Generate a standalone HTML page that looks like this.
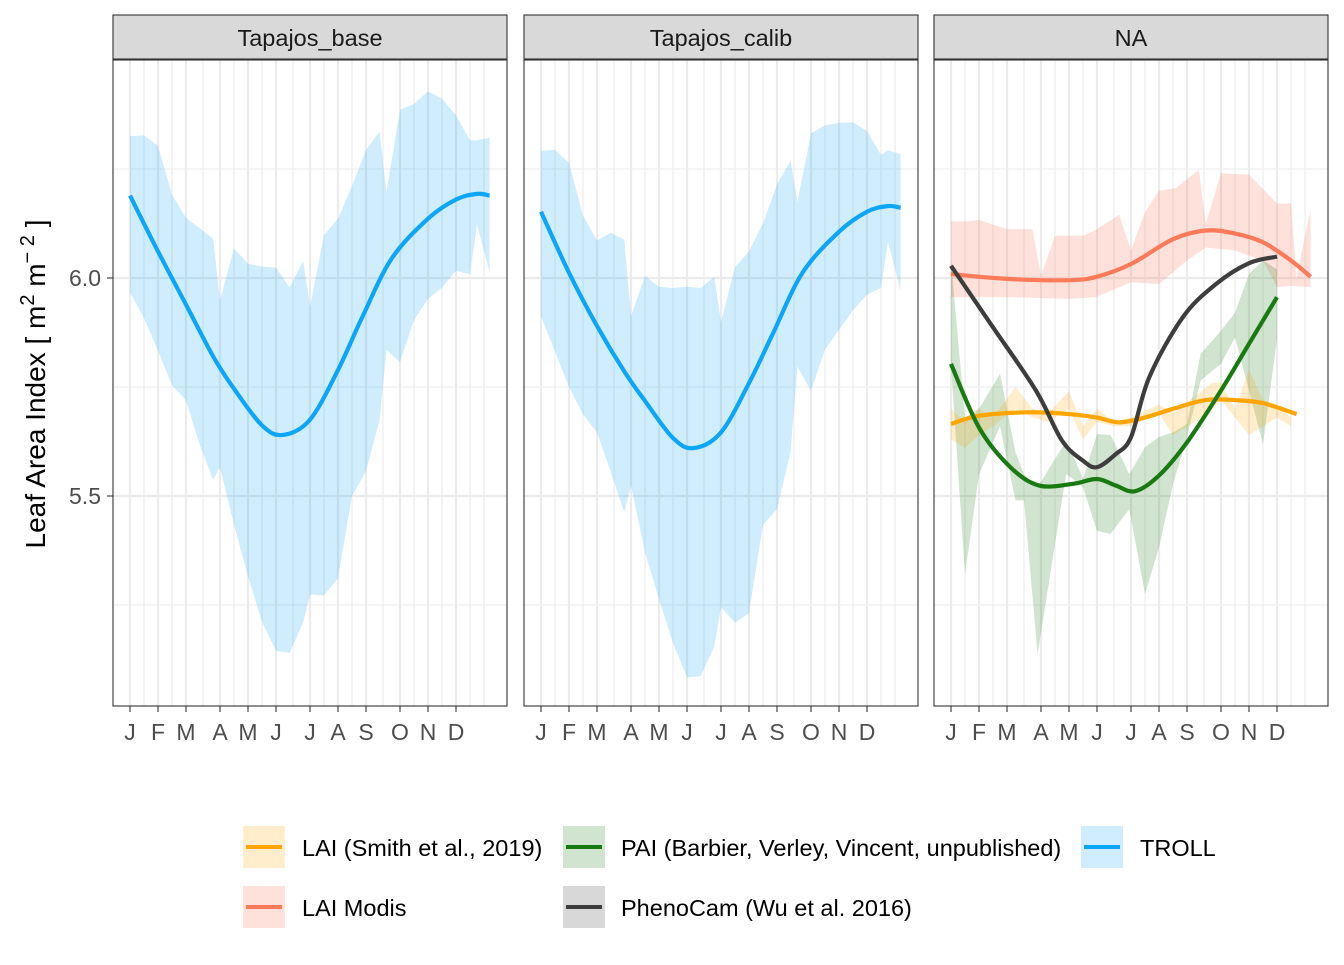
<!DOCTYPE html>
<html><head><meta charset="utf-8"><style>
body{margin:0;background:#fff;}
svg text{font-family:"Liberation Sans",sans-serif;}
</style></head><body>
<svg id="chart" width="1344" height="960" xmlns="http://www.w3.org/2000/svg"></svg>
<script>
// ---- data ----
const panelTitles = ["Tapajos_base","Tapajos_calib","NA"];
const monthLabels = ["J","F","M","A","M","J","J","A","S","O","N","D"];
const monthIdx = [0,2,4,6,8,10,12,14,16,18,20,22];
const yTicks = [5.5,6.0];
const yMinor = [5.25,5.75,6.25];
// x in axis units (half-month grid index)
const trollX = [0,1,2,3,4,4.8,5.6,6,7,8,9,10,10.8,11.6,12,13,14,15,16,16.8,17.2,18,19,20,21,22,23,23.5,24.4];
const baseUpper = [6.325,6.327,6.303,6.191,6.138,6.114,6.090,5.949,6.068,6.033,6.026,6.024,5.978,6.039,5.934,6.098,6.136,6.211,6.294,6.336,6.197,6.386,6.399,6.428,6.411,6.373,6.316,6.316,6.322];
const baseLower = [5.967,5.908,5.833,5.754,5.719,5.618,5.537,5.566,5.434,5.316,5.211,5.145,5.140,5.211,5.274,5.272,5.311,5.500,5.557,5.675,5.835,5.807,5.904,5.952,5.978,6.016,6.009,6.123,6.013];
const calibUpper = [6.292,6.294,6.264,6.143,6.086,6.104,6.088,5.912,6.005,5.980,5.977,5.980,5.977,6.003,5.899,6.025,6.061,6.125,6.215,6.269,6.174,6.332,6.350,6.356,6.357,6.337,6.282,6.293,6.284];
const calibLower = [5.912,5.831,5.750,5.687,5.646,5.556,5.463,5.524,5.371,5.263,5.163,5.084,5.087,5.154,5.245,5.209,5.231,5.434,5.470,5.601,5.797,5.741,5.836,5.881,5.926,5.962,5.977,6.084,5.971];
const lineX = [0,2,4,5.6,7,9,10.4,12,14,15.7,17.5,20,22,23.5,24.4];
const baseLine = [6.189,6.061,5.939,5.820,5.746,5.662,5.640,5.675,5.789,5.908,6.044,6.136,6.180,6.193,6.189];
const calibLine = [6.152,6.012,5.890,5.786,5.718,5.633,5.610,5.646,5.759,5.872,6.012,6.106,6.152,6.165,6.161];
// NA panel
const modisLineX = [0,4,8,10,12,15,17.1,19,21,23,24.4];
const modisLine = [6.009,5.998,5.995,6.003,6.032,6.089,6.109,6.102,6.082,6.040,6.003];
const modisUpX = [0,1,2,4,5.5,6,7,9,9.9,11.3,12,13,14,15.2,16.7,17.1,18,20,22,23,23.4,24.4];
const modisUp = [6.130,6.130,6.133,6.112,6.112,6.005,6.097,6.097,6.110,6.145,6.063,6.151,6.200,6.206,6.248,6.124,6.240,6.237,6.171,6.171,6.002,6.158];
const modisLoX = [0,4,8,9.9,12,14,16,17.1,19,21,22,23,24.4];
const modisLo = [5.956,5.956,5.952,5.956,5.990,5.986,6.040,6.070,6.063,6.040,5.979,5.982,5.979];
const phenoX = [0,3,5.7,7.5,9,10,11.1,12,13.3,15.7,17.7,20,22];
const phenoLine = [6.028,5.887,5.742,5.627,5.581,5.566,5.596,5.635,5.772,5.910,5.986,6.034,6.049];
const paiX = [0,2,4.2,5.9,8.3,10,11.1,12.3,14,16,18,20,22];
const paiLine = [5.803,5.657,5.566,5.524,5.528,5.539,5.524,5.511,5.547,5.623,5.742,5.849,5.956];
const paiRibX = [0,1,2,3.5,4.5,5,5.8,7.8,9,10,10.8,11.9,13,14,15,16,16.8,18,19,20,21,22];
const paiUp = [6.04,5.68,5.70,5.78,5.60,5.55,5.52,5.627,5.54,5.642,5.64,5.55,5.612,5.635,5.646,5.665,5.826,5.879,5.921,6.009,6.040,6.02];
const paiLo = [5.80,5.32,5.55,5.66,5.49,5.49,5.138,5.551,5.52,5.42,5.413,5.47,5.275,5.382,5.527,5.635,5.765,5.803,5.864,5.742,5.619,5.86];
const smithLineX = [0,2,5.3,8,10,11.3,13,15,17.1,19,21,23.4];
const smithLine = [5.665,5.684,5.692,5.688,5.680,5.669,5.680,5.700,5.720,5.720,5.713,5.688];
const smithRibX = [0,1,2,3,4.5,5.5,6.5,8,9,10,11,12,14,15,16.5,17.5,18,19,20,21,22,23];
const smithUp = [5.70,5.67,5.70,5.68,5.75,5.70,5.69,5.74,5.66,5.70,5.67,5.68,5.71,5.69,5.73,5.76,5.76,5.70,5.79,5.72,5.71,5.68];
const smithLo = [5.63,5.61,5.64,5.66,5.70,5.68,5.67,5.70,5.63,5.67,5.66,5.66,5.69,5.64,5.67,5.70,5.72,5.68,5.64,5.66,5.68,5.66];

// ---- scales ----
const gridPx = [0,14,28,42,56,73,90,104,118,132,146,163,180,194,208,222,236,253,270,284,298,312,326,340,354];
const panelLeft = [113,524,934];
const PW = 394, PTOP = 60, PBOT = 706;
function xs(p, v){
  const b = panelLeft[p] + 17;
  if (v <= 0) return b + v*14;
  if (v >= 24) return b + gridPx[24] + (v-24)*14;
  const i = Math.floor(v), f = v - i;
  return b + gridPx[i] + f*(gridPx[i+1]-gridPx[i]);
}
function ys(v){ return 278 - (v-6)*436; }

const svg = document.getElementById('chart');
const NS = "http://www.w3.org/2000/svg";
function mk(tag, attrs, parent){
  const e = document.createElementNS(NS, tag);
  for (const k in attrs) e.setAttribute(k, attrs[k]);
  (parent||svg).appendChild(e);
  return e;
}
function smooth(pts){
  let d = `M${pts[0][0]},${pts[0][1]}`;
  for (let i=0;i<pts.length-1;i++){
    const p0=pts[Math.max(0,i-1)], p1=pts[i], p2=pts[i+1], p3=pts[Math.min(pts.length-1,i+2)];
    const c1x=p1[0]+(p2[0]-p0[0])/6, c1y=p1[1]+(p2[1]-p0[1])/6;
    const c2x=p2[0]-(p3[0]-p1[0])/6, c2y=p2[1]-(p3[1]-p1[1])/6;
    d += ` C${c1x},${c1y} ${c2x},${c2y} ${p2[0]},${p2[1]}`;
  }
  return d;
}
function ribbon(p, xu, up, xl, lo, fill, name){
  const pts = xu.map((x,i)=>`${xs(p,x)},${ys(up[i])}`);
  for (let i=xl.length-1;i>=0;i--) pts.push(`${xs(p,xl[i])},${ys(lo[i])}`);
  const e = mk('polygon',{points:pts.join(' '), fill:fill});
  
  
}
function line(p, xv, yv, color, name){
  const pts = xv.map((x,i)=>[xs(p,x), ys(yv[i])]);
  const e = mk('path',{d:smooth(pts), fill:'none', stroke:color, 'stroke-width':4.2, 'stroke-linecap':'butt'});
  
  
}

for (let p=0;p<3;p++){
  const L = panelLeft[p];
  const g = mk('g',{});
  
  
  for (let i=0;i<25;i++){
    const x = xs(p,i);
    mk('line',{x1:x,x2:x,y1:PTOP,y2:PBOT,stroke:'#ebebeb','stroke-width': i%2===0 && i<=22 ? 2.2 : 1.1},g);
  }
  yMinor.forEach(v=>mk('line',{x1:L,x2:L+PW,y1:ys(v),y2:ys(v),stroke:'#ebebeb','stroke-width':1.1},g));
  yTicks.forEach(v=>mk('line',{x1:L,x2:L+PW,y1:ys(v),y2:ys(v),stroke:'#ebebeb','stroke-width':2.2},g));
  const st = mk('rect',{x:L,y:15,width:PW,height:44,fill:'#d9d9d9',stroke:'#333','stroke-width':1.1});
  
  
  const t = mk('text',{x:L+PW/2,y:46,'text-anchor':'middle','font-size':23.5,fill:'#1a1a1a'});
  t.textContent = panelTitles[p];
  
  
  monthIdx.forEach((m,i)=>{
    const x = xs(p,m);
    mk('line',{x1:x,x2:x,y1:PBOT,y2:PBOT+6,stroke:'#333','stroke-width':1.1});
    const tl = mk('text',{x:x,y:740,'text-anchor':'middle','font-size':23,fill:'#4d4d4d'});
    tl.textContent = monthLabels[i];
    
    
  });
}
ribbon(0, trollX, baseUpper, trollX, baseLower, 'rgba(20,165,250,0.2)', 'troll-ribbon-base');
line(0, lineX, baseLine, '#0ca6f8', 'troll-line-base');
ribbon(1, trollX, calibUpper, trollX, calibLower, 'rgba(20,165,250,0.2)', 'troll-ribbon-calib');
line(1, lineX, calibLine, '#0ca6f8', 'troll-line-calib');
ribbon(2, modisUpX, modisUp, modisLoX, modisLo, 'rgba(250,120,90,0.22)', 'modis-ribbon');
ribbon(2, paiRibX, paiUp, paiRibX, paiLo, 'rgba(26,122,18,0.2)', 'pai-ribbon');
ribbon(2, smithRibX, smithUp, smithRibX, smithLo, 'rgba(255,165,0,0.2)', 'smith-ribbon');
line(2, modisLineX, modisLine, '#fa7a5a', 'modis-line');
line(2, smithLineX, smithLine, '#ffa500', 'smith-line');
line(2, phenoX, phenoLine, '#3d3d3d', 'phenocam-line');
line(2, paiX, paiLine, '#1a7a12', 'pai-line');
panelLeft.forEach(L=>mk('rect',{x:L,y:PTOP,width:PW,height:PBOT-PTOP,fill:'none',stroke:'#333','stroke-width':1.1}));
yTicks.forEach(v=>{
  mk('line',{x1:107,x2:113,y1:ys(v),y2:ys(v),stroke:'#333','stroke-width':1.1});
  const t = mk('text',{x:101,y:ys(v)+8,'text-anchor':'end','font-size':23,fill:'#4d4d4d'});
  t.textContent = v.toFixed(1);
  
  
});
</script>
<svg style="position:absolute;left:0;top:0" width="1344" height="960">
  <text transform="translate(45,384) rotate(-90)" text-anchor="middle" font-size="28" fill="#000" font-family="Liberation Sans, sans-serif">Leaf Area Index [ m<tspan dy="-11" font-size="20">2</tspan><tspan dy="11"> m</tspan><tspan dy="-11" font-size="20">− 2</tspan><tspan dy="11"> ]</tspan></text>
  <g font-family="Liberation Sans, sans-serif" font-size="23.5" fill="#000">
    <g>
      <rect x="243" y="826" width="42" height="42" fill="rgba(255,165,0,0.2)"/>
      <line x1="246" x2="282" y1="847" y2="847" stroke="#ffa500" stroke-width="4"/>
      <text x="302" y="856">LAI (Smith et al., 2019)</text>
    </g>
    <g>
      <rect x="243" y="886" width="42" height="42" fill="rgba(250,120,90,0.22)"/>
      <line x1="246" x2="282" y1="907" y2="907" stroke="#fa7a5a" stroke-width="4"/>
      <text x="302" y="916">LAI Modis</text>
    </g>
    <g>
      <rect x="563" y="826" width="42" height="42" fill="rgba(26,122,18,0.2)"/>
      <line x1="566" x2="602" y1="847" y2="847" stroke="#1a7a12" stroke-width="4"/>
      <text x="621" y="856">PAI (Barbier, Verley, Vincent, unpublished)</text>
    </g>
    <g>
      <rect x="563" y="886" width="42" height="42" fill="rgba(61,61,61,0.2)"/>
      <line x1="566" x2="602" y1="907" y2="907" stroke="#3d3d3d" stroke-width="4"/>
      <text x="621" y="916">PhenoCam (Wu et al. 2016)</text>
    </g>
    <g>
      <rect x="1081" y="826" width="42" height="42" fill="rgba(20,165,250,0.2)"/>
      <line x1="1084" x2="1120" y1="847" y2="847" stroke="#0ca6f8" stroke-width="4"/>
      <text x="1140" y="856">TROLL</text>
    </g>
  </g>
</svg>
</body></html>
